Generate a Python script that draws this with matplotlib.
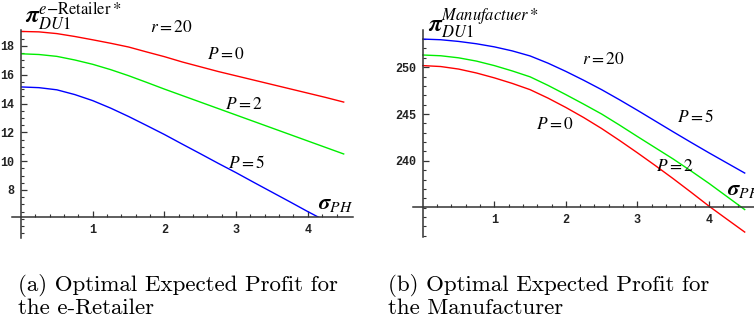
import matplotlib
matplotlib.use("Agg")
import matplotlib.pyplot as plt
from matplotlib.patches import Rectangle

plt.rcParams['mathtext.fontset'] = 'stix'

# sigma_PH sample points
sigma = [0.0, 0.25, 0.5, 0.75, 1.0, 1.25, 1.5, 1.75, 2.0, 2.25,
         2.5, 2.75, 3.0, 3.25, 3.5, 3.75, 4.0, 4.25, 4.5]

# e-Retailer expected profit, r = 20
ret_p0 = [19.0, 18.97, 18.85, 18.65, 18.42, 18.18, 17.92, 17.58, 17.25, 16.88,
          16.55, 16.22, 15.92, 15.62, 15.32, 15.02, 14.72, 14.42, 14.1]
ret_p2 = [17.45, 17.4, 17.27, 17.02, 16.72, 16.35, 15.93, 15.47, 15.0, 14.55,
          14.1, 13.65, 13.2, 12.75, 12.3, 11.85, 11.4, 10.95, 10.5]
ret_p5 = [15.15, 15.1, 14.95, 14.62, 14.2, 13.68, 13.1, 12.48, 11.85, 11.18,
          10.52, 9.85, 9.2, 8.52, 7.85, 7.18, 6.5, 5.85, 5.2]

# Manufacturer expected profit, r = 20
man_p0 = [250.17, 250.07, 249.8, 249.38, 248.86, 248.27, 247.6, 246.7, 245.7, 244.62,
          243.45, 242.18, 240.86, 239.5, 238.1, 236.65, 235.17, 233.78, 232.4]
man_p2 = [251.3, 251.22, 251.0, 250.65, 250.17, 249.6, 248.97, 248.06, 247.07, 246.05,
          245.0, 243.82, 242.6, 241.4, 240.2, 238.92, 237.6, 236.2, 234.8]
man_p5 = [253.0, 252.93, 252.75, 252.5, 252.17, 251.74, 251.2, 250.43, 249.55, 248.6,
          247.6, 246.52, 245.4, 244.25, 243.1, 241.97, 240.86, 239.78, 238.7]

ret_yticks = [8, 10, 12, 14, 16, 18]
man_yticks = [240, 245, 250]
xticks = [1, 2, 3, 4]

W, H = 754, 322
fig = plt.figure(figsize=(W / 100, H / 100), dpi=100)


def px_axes(left, top, right, bottom):
    return fig.add_axes([left / W, 1 - bottom / H, (right - left) / W, (bottom - top) / H])


def style(ax, ycross, ymajor, yminor):
    for s in ['top', 'right']:
        ax.spines[s].set_visible(False)
    ax.spines['left'].set_position(('data', 0))
    ax.spines['bottom'].set_position(('data', ycross))
    for s in ['left', 'bottom']:
        ax.spines[s].set_color('#333333')
        ax.spines[s].set_linewidth(1.1)
    ax.set_xticks(xticks)
    ax.set_xticks([i * 0.2 for i in range(1, 23)], minor=True)
    ax.set_yticks(ymajor)
    ax.set_yticks(yminor, minor=True)
    ax.tick_params(which='major', direction='in', length=4, width=0.9, color='#333333',
                   labelsize=8.5, pad=5)
    ax.tick_params(which='minor', direction='in', length=2.5, width=0.8, color='#333333')
    for lab in ax.get_xticklabels() + ax.get_yticklabels():
        lab.set_fontfamily('Liberation Mono')
        lab.set_fontweight('bold')
        lab.set_color('#222222')
    ax.patch.set_visible(False)


lab_kw = dict(fontsize=12.5, ha='center', va='center')

# (a) e-Retailer
ax1 = px_axes(11.7, 30, 353, 238)
ax1.set_xlim(-0.13, 4.63)
ax1.set_ylim(4.67, 19.1)
style(ax1, 6.1, ret_yticks, [4.5 + 0.5 * i for i in range(1, 30)])
clip1 = Rectangle((0, 6.1), 5, 20, transform=ax1.transData)
for ys, c in [(ret_p0, 'red'), (ret_p2, '#00ee00'), (ret_p5, 'blue')]:
    ln, = ax1.plot(sigma, ys, color=c, lw=1.0)
    ln.set_clip_path(clip1)
ax1.text(2.09, 19.32, r'$r = 20$', **lab_kw)
ax1.text(2.86, 17.44, r'$P = 0$', **lab_kw)
ax1.text(3.11, 13.97, r'$P = 2$', **lab_kw)
ax1.text(3.14, 9.87, r'$P = 5$', **lab_kw)
ax1.text(4.14, 7.0, r'$\boldsymbol{\sigma}_{PH}$', fontsize=16, ha='left', va='center')
ax1.text(0.06, 20.05, r'$\boldsymbol{\pi}_{DU1}^{e\mathrm{-Retailer}*}$',
         fontsize=17, ha='left', va='center')

# (b) Manufacturer
ax2 = px_axes(412.8, 30, 754, 237.3)
ax2.set_xlim(-0.14, 4.63)
ax2.set_ylim(231.84, 253.97)
style(ax2, 235.07, man_yticks, list(range(232, 254)))
for ys, c in [(man_p0, 'red'), (man_p2, '#00ee00'), (man_p5, 'blue')]:
    ax2.plot(sigma, ys, color=c, lw=1.0, clip_on=False)
ax2.text(2.53, 250.9, r'$r = 20$', **lab_kw)
ax2.text(3.81, 244.7, r'$P = 5$', **lab_kw)
ax2.text(1.84, 243.97, r'$P = 0$', **lab_kw)
ax2.text(3.53, 239.5, r'$P = 2$', **lab_kw)
ax2.text(4.25, 236.94, r'$\boldsymbol{\sigma}_{PH}$', fontsize=16, ha='left', va='center')
ax2.text(0.07, 254.7, r'$\boldsymbol{\pi}_{DU1}^{Manufactuer*}$',
         fontsize=17, ha='left', va='center')

# captions, two lines each
cap_kw = dict(fontsize=16.5, family='cmr10', ha='left', va='baseline')
fig.text(18 / W, 1 - 291 / H, '(a) Optimal Expected Profit for', **cap_kw)
fig.text(18 / W, 1 - 314 / H, 'the e-Retailer', **cap_kw)
fig.text(388 / W, 1 - 291 / H, '(b) Optimal Expected Profit for', **cap_kw)
fig.text(388 / W, 1 - 314 / H, 'the Manufacturer', **cap_kw)

fig.savefig('out.png', dpi=100)
